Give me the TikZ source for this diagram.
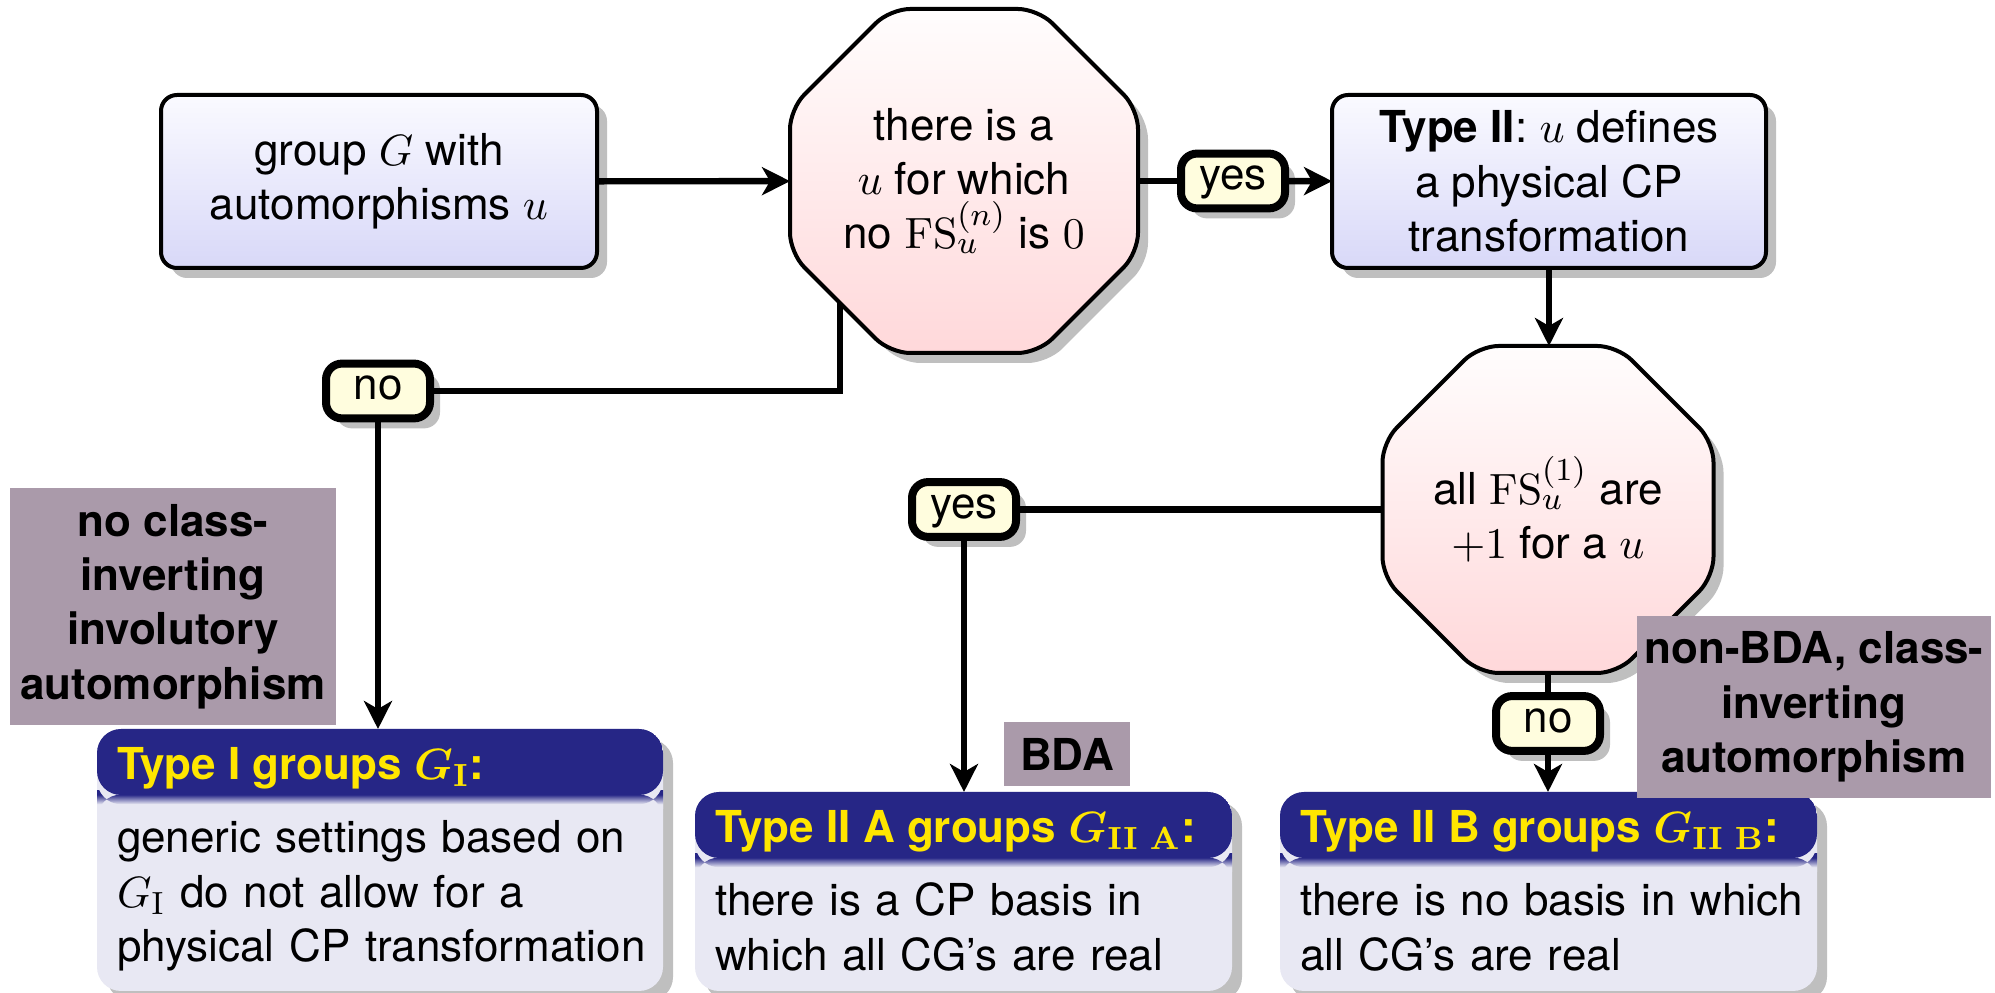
\documentclass[tikz,border=0pt]{standalone}
\usepackage[no-math]{fontspec}
\setmainfont{TeX Gyre Heros}
\usetikzlibrary{arrows.meta,calc,shadows}

\pgfdeclarelayer{bg}
\pgfsetlayers{bg,main}

\definecolor{boxtop}{RGB}{250,250,255}
\definecolor{boxbot}{RGB}{216,216,248}
\definecolor{octtop}{RGB}{255,253,253}
\definecolor{octbot}{RGB}{255,216,218}
\definecolor{labfill}{RGB}{255,253,222}
\definecolor{hdr}{RGB}{38,38,134}
\definecolor{hdrtext}{RGB}{255,230,0}
\definecolor{bodyc}{RGB}{232,232,243}
\definecolor{notefill}{RGB}{170,154,170}

% octagonal outline around a (rectangular, invisible) node, chamfer in picture units
\newcommand\drawoct[2]{%
  \path[octshape]
    ($(#1.north west)+(#2,0)$) -- ($(#1.north east)+(-#2,0)$) --
    ($(#1.north east)+(0,#2)$) -- ($(#1.south east)+(0,-#2)$) --
    ($(#1.south east)+(-#2,0)$) -- ($(#1.south west)+(#2,0)$) --
    ($(#1.south west)+(0,-#2)$) -- ($(#1.north west)+(0,#2)$) -- cycle;}

\begin{document}
\begin{tikzpicture}[x=0.25pt,y=-0.25pt,
  every node/.style={font=\fontsize{11pt}{13.6pt}\selectfont, inner sep=0pt, outer sep=0pt},
  shadowed/.style={drop shadow={shadow xshift=2.5pt,shadow yshift=-2.5pt,fill=black,opacity=0.25}},
  plainbox/.style={shadowed, draw, line width=1pt, rounded corners=4pt,
    top color=boxtop, bottom color=boxbot, align=center},
  octnode/.style={align=center},
  octshape/.style={shadowed, draw, line width=1pt, rounded corners=5pt,
    top color=octtop, bottom color=octbot},
  answer/.style={shadowed, draw, line width=2pt, rounded corners=4pt, fill=labfill,
    inner xsep=3pt, inner ysep=2.4pt, minimum width=26pt, minimum height=13.4pt,
    text height=6.6pt, text depth=2.3pt},
  conn/.style={line width=1.6pt},
  arrow/.style={conn, -{Stealth[length=7pt,width=7pt,inset=2pt]}},
  typebox/.style={shadowed, fill=bodyc, rounded corners=6pt,
    path picture={
      \fill[hdr] (path picture bounding box.north west) rectangle
        ([yshift=-16.5pt]path picture bounding box.north east);
      \shade[top color=hdr, bottom color=bodyc]
        ([yshift=-16.4pt]path picture bounding box.north west) rectangle
        ([yshift=-18.8pt]path picture bounding box.north east);}},
  typehead/.style={anchor=base west, text=hdrtext,
    font=\fontsize{11pt}{13.6pt}\selectfont\bfseries\boldmath},
  typebody/.style={anchor=base west, align=left, text width=134pt},
  note/.style={fill=notefill, align=center,
    font=\fontsize{11pt}{13.6pt}\selectfont\bfseries}
]
\useasboundingbox (0,0) rectangle (1995,993);

% decision nodes (outline drawn on the background layer)
\node[octnode, minimum width=87pt, minimum height=86pt] (q1) at (964,181)
  {there is a\\$u$ for which\\no $\mathrm{FS}_u^{(n)}$ is $0$};
\node[octnode, minimum width=82.75pt, minimum height=81.75pt] (q2) at (1548,509.5)
  {all $\mathrm{FS}_u^{(1)}$ are\\$+1$ for a $u$};

% start and intermediate boxes
\node[plainbox, minimum width=109pt, minimum height=43.25pt] (g) at (379,181.5)
  {group $G$ with\\automorphisms $u$};
\node[plainbox, minimum width=108.5pt, minimum height=43.25pt] (t0) at (1549,181.5)
  {\textbf{Type II}: $u$ defines\\a physical CP\\transformation};

% answer labels
\node[answer] (yes1) at (1233,181) {yes};
\node[answer] (no1) at (378,391) {no};
\node[answer] (yes2) at (964,509.5) {yes};
\node[answer] (no2) at (1548,723.5) {no};

% result boxes
\node[typebox, minimum width=141.5pt, minimum height=65.5pt] (t1) at (380,860) {};
\node[typebox, minimum width=134.25pt, minimum height=49.75pt] (t2) at (963.5,891.5) {};
\node[typebox, minimum width=134.25pt, minimum height=49.75pt] (t3) at (1548.5,891.5) {};

\node[typehead] (t1h) at ($(t1.north west)+(20,51)$) {Type I groups $G_{\mathrm{I}}$:};
\node[typebody] (t1b) at ($(t1.north west)+(20,124)$)
  {generic settings based on\\$G_{\mathrm{I}}$ do not allow for a\\physical CP transformation};
\node[typehead] (t2h) at ($(t2.north west)+(20,51)$) {Type II A groups $G_{\mathrm{II\ A}}$:};
\node[typebody] (t2b) at ($(t2.north west)+(20,124)$)
  {there is a CP basis in\\which all CG's are real};
\node[typehead] (t3h) at ($(t3.north west)+(20,51)$) {Type II B groups $G_{\mathrm{II\ B}}$:};
\node[typebody] (t3b) at ($(t3.north west)+(20,124)$)
  {there is no basis in which\\all CG's are real};

% side notes
\node[note, minimum width=81.5pt, minimum height=59.25pt] (n1) at (173,606.5)
  {no class-\\inverting\\involutory\\automorphism};
\node[note, minimum width=31.5pt, minimum height=16pt] (n2) at (1067,754) {BDA};
\node[note, minimum width=88.5pt, minimum height=45.5pt] (n3) at (1814,707)
  {non-BDA, class-\\inverting\\automorphism};

\coordinate (q1out) at ($(q1.south west)+(50,-60)$);

\begin{pgfonlayer}{bg}
  \draw[arrow] (g) -- (q1);
  \draw[conn] (q1) -- (yes1);
  \draw[arrow] (yes1) -- (t0);
  \draw[arrow] (t0) -- (t0 |- q2.north);
  \draw[conn] (q1out) |- (no1);
  \draw[arrow] (no1) -- (no1 |- t1.north);
  \draw[conn] (q2) -- (yes2);
  \draw[arrow] (yes2) -- (yes2 |- t2.north);
  \draw[conn] (q2) -- (no2);
  \draw[arrow] (no2) -- (no2 |- t3.north);
  \drawoct{q1}{100}
  \drawoct{q2}{96}
\end{pgfonlayer}
\end{tikzpicture}
\end{document}
